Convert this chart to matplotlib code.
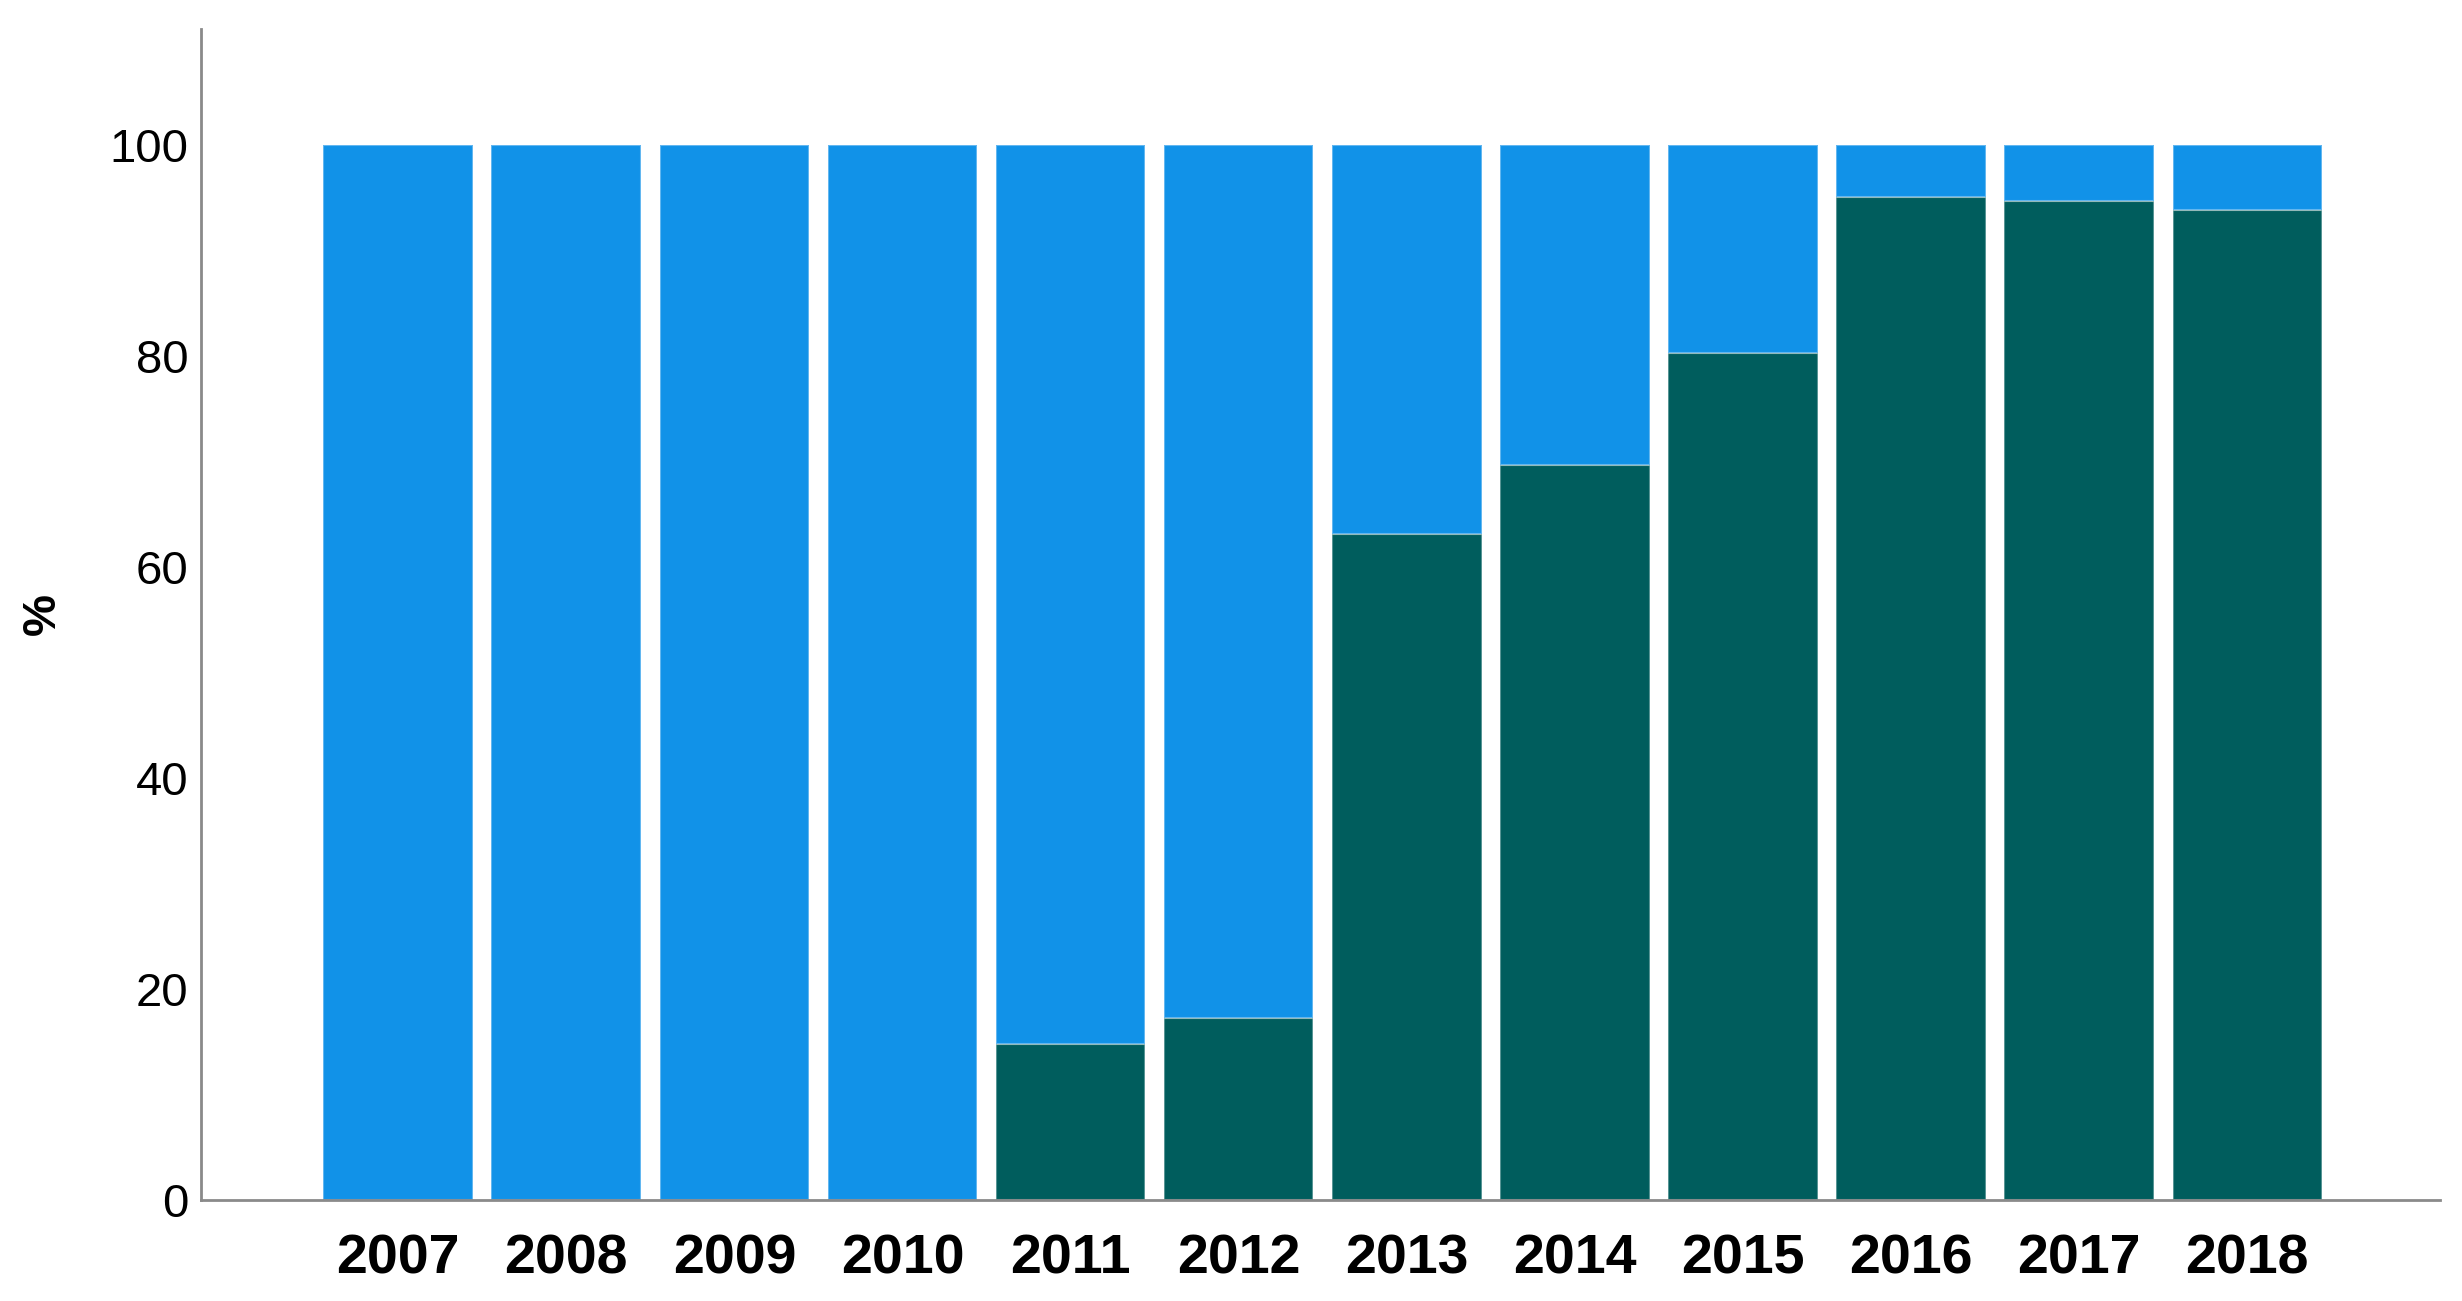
import numpy as np
import matplotlib
matplotlib.use("Agg")
import matplotlib.pyplot as plt

# Values (percent)
years = ["2007", "2008", "2009", "2010", "2011", "2012",
         "2013", "2014", "2015", "2016", "2017", "2018"]
share_green = [0, 0, 0, 0, 14.8, 17.2, 63.1, 69.7, 80.3, 95.1, 94.7, 93.8]
share_blue = [100, 100, 100, 100, 85.2, 82.8, 36.9, 30.3, 19.7, 4.9, 5.3, 6.2]
y_ticks = [0, 20, 40, 60, 80, 100]

color_green = "#005d5d"
color_blue = "#1192e8"

plt.rcParams["font.family"] = ["Liberation Sans", "DejaVu Sans"]

fig = plt.figure(figsize=(24.62, 13.01), dpi=100)
ax = fig.add_axes([0.0816, 0.0777, 0.9094, 0.9000])

x = np.arange(len(years))
ax.bar(x, share_green, width=0.89, color=color_green,
       edgecolor=(1, 1, 1, 0.35), linewidth=1.5)
ax.bar(x, share_blue, width=0.89, bottom=share_green, color=color_blue,
       edgecolor=(1, 1, 1, 0.35), linewidth=1.5)

ax.set_xlim(-1.173, 12.145)
ax.set_ylim(0, 111)
ax.set_xticks(x)
ax.set_xticklabels(years, fontsize=40, fontweight="bold")
ax.set_yticks(y_ticks)
ax.set_yticklabels([str(v) for v in y_ticks], fontsize=34)
ax.tick_params(axis="x", length=0, pad=24)
ax.tick_params(axis="y", length=0, pad=9)

ax.set_ylabel("%", fontsize=34, fontweight="bold", labelpad=32)

for side in ["top", "right"]:
    ax.spines[side].set_visible(False)
for side in ["left", "bottom"]:
    ax.spines[side].set_color("#8a8a8a")
    ax.spines[side].set_linewidth(2)

fig.savefig("out.png", dpi=100)
